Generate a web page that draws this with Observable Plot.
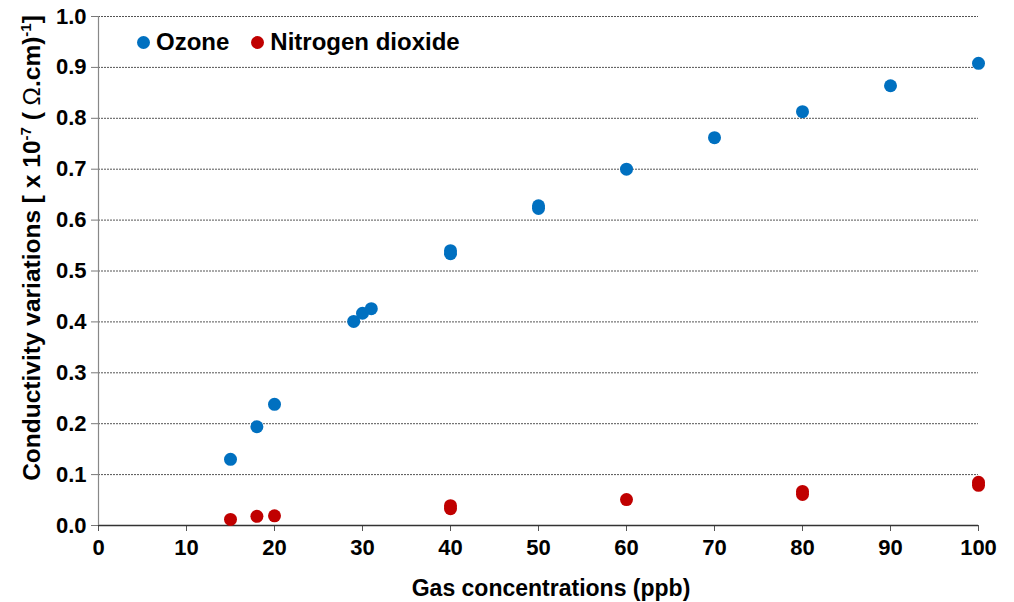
<!DOCTYPE html>
<html>
<head>
<meta charset="utf-8">
<script src="https://cdn.jsdelivr.net/npm/d3@7"></script>
<script src="https://cdn.jsdelivr.net/npm/@observablehq/plot@0.6"></script>
<style>
  html, body { margin: 0; padding: 0; background: #fff; }
  #wrap { position: relative; width: 1014px; height: 602px; font-family: "Liberation Sans", Arial, sans-serif; }
  #legend { position: absolute; left: 137px; top: 28px; display: flex; align-items: center; font-weight: bold; font-size: 24px; color: #000; }
  #legend .sw { display: inline-block; width: 13px; height: 13px; border-radius: 50%; margin-right: 6px; }
  #legend .item { display: flex; align-items: center; margin-right: 22px; }
</style>
</head>
<body>
<div id="wrap"></div>
<script>
const seriesNames = ["Ozone", "Nitrogen dioxide"];
const seriesColors = ["#0070C0", "#C00000"];

const ozoneX = [15, 18, 20, 29, 30, 31, 40, 40, 50, 50, 60, 70, 80, 90, 100];
const ozoneY = [0.130, 0.194, 0.238, 0.401, 0.417, 0.426, 0.534, 0.540, 0.623, 0.628, 0.700, 0.762, 0.813, 0.864, 0.908];

const no2X = [15, 18, 20, 40, 40, 60, 80, 80, 100, 100];
const no2Y = [0.012, 0.018, 0.019, 0.033, 0.039, 0.051, 0.061, 0.067, 0.079, 0.085];

const xTicks = [0, 10, 20, 30, 40, 50, 60, 70, 80, 90, 100];
const yTicks = [0, 0.1, 0.2, 0.3, 0.4, 0.5, 0.6, 0.7, 0.8, 0.9, 1.0];
const gridTicks = [0.1, 0.2, 0.3, 0.4, 0.5, 0.6, 0.7, 0.8, 0.9, 1.0];

const xTitle = "Gas concentrations (ppb)";

const data = [
  ...ozoneX.map((x, i) => ({x, y: ozoneY[i], s: seriesNames[0]})),
  ...no2X.map((x, i) => ({x, y: no2Y[i], s: seriesNames[1]}))
];

const chart = Plot.plot({
  width: 1014,
  height: 602,
  marginLeft: 98,
  marginRight: 36,
  marginTop: 16,
  marginBottom: 77,
  style: { fontFamily: "'Liberation Sans', Arial, sans-serif", fontSize: "22px", fontWeight: "bold", color: "#000", background: "#fff" },
  x: { domain: [0, 100], ticks: xTicks, tickSize: 6, tickPadding: 10, label: null },
  y: { domain: [0, 1], ticks: yTicks, tickSize: 7, tickPadding: 6, tickFormat: d3.format(".1f"), label: null },
  color: { domain: seriesNames, range: seriesColors },
  marks: [
    Plot.gridY(gridTicks, { stroke: "#000", strokeOpacity: 0.85, strokeWidth: 0.8, strokeDasharray: "2,1" }),
    Plot.axisX({ ticks: xTicks, tickSize: 6, tickPadding: 8, stroke: "#555", fontSize: 22, fontWeight: "bold", label: null }),
    Plot.axisY({ ticks: yTicks, tickSize: 7, tickPadding: 5, stroke: "#777", fontSize: 22, fontWeight: "bold", tickFormat: d3.format(".1f"), label: null }),
    Plot.ruleY([0], { stroke: "#333", strokeWidth: 1.5 }),
    Plot.ruleX([0], { stroke: "#888", strokeWidth: 1.2 }),
    Plot.dot(data, { x: "x", y: "y", fill: "s", r: 6.5, stroke: null })
  ]
});

const wrap = document.getElementById("wrap");
wrap.appendChild(chart);

// axis titles
const svg = d3.select(chart);
svg.append("text")
  .attr("x", 551)
  .attr("y", 596)
  .attr("text-anchor", "middle")
  .attr("font-size", 23)
  .attr("font-weight", "bold")
  .attr("fill", "#000")
  .text(xTitle);

const yt = svg.append("text")
  .attr("transform", "translate(40,248) rotate(-90)")
  .attr("text-anchor", "middle")
  .attr("font-size", 24.5)
  .attr("font-weight", "bold")
  .attr("fill", "#000");
yt.append("tspan").text("Conductivity variations [ x 10");
yt.append("tspan").attr("font-size", 15).attr("dy", -9).text("-7");
yt.append("tspan").attr("dy", 9).text(" ( ");
yt.append("tspan").attr("font-weight", "normal").text("Ω");
yt.append("tspan").text(".cm)");
yt.append("tspan").attr("font-size", 15).attr("dy", -9).text("-1");
yt.append("tspan").attr("dy", 9).text("]");

// legend
const legend = document.createElement("div");
legend.id = "legend";
seriesNames.forEach((name, i) => {
  const item = document.createElement("span");
  item.className = "item";
  const sw = document.createElement("span");
  sw.className = "sw";
  sw.style.background = seriesColors[i];
  item.appendChild(sw);
  item.appendChild(document.createTextNode(name));
  legend.appendChild(item);
});
wrap.appendChild(legend);
</script>
</body>
</html>
